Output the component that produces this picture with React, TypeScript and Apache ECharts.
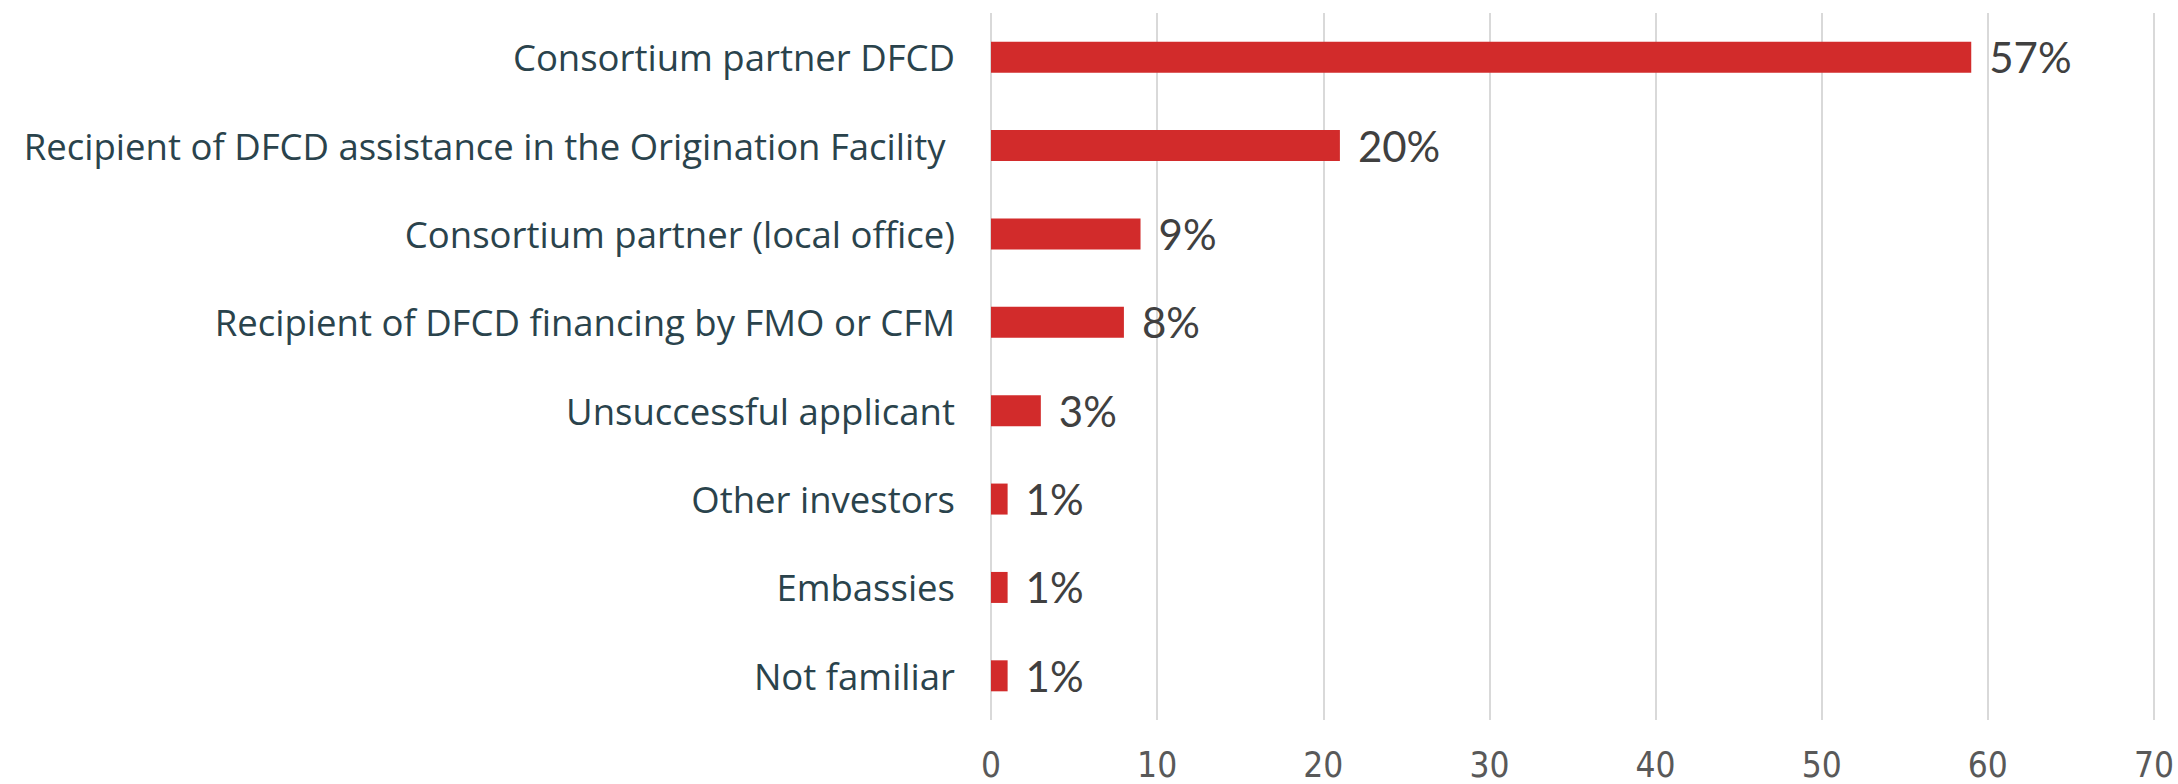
import React, { useEffect, useRef } from "react";
import * as echarts from "echarts";

const categories = [
  "Consortium partner DFCD",
  "Recipient of DFCD assistance in the Origination Facility ",
  "Consortium partner (local office)",
  "Recipient of DFCD financing by FMO or CFM",
  "Unsuccessful applicant",
  "Other investors",
  "Embassies",
  "Not familiar",
];
const barValues = [59, 21, 9, 8, 3, 1, 1, 1];
const valueLabels = ["57%", "20%", "9%", "8%", "3%", "1%", "1%", "1%"];
const xTicks = [0, 10, 20, 30, 40, 50, 60, 70];

export default function App() {
  const ref = useRef<HTMLDivElement>(null);
  useEffect(() => {
    if (!ref.current) return;
    const chart = echarts.init(ref.current, undefined, { renderer: "svg" });
    const font = "Lato, 'Open Sans', sans-serif";
    chart.setOption({
      animation: false,
      backgroundColor: "#ffffff",
      grid: { left: 991, right: 24, top: 13, bottom: 64, containLabel: false },
      xAxis: {
        type: "value",
        min: xTicks[0],
        max: xTicks[xTicks.length - 1],
        interval: 10,
        axisLine: { show: false },
        axisTick: { show: false },
        splitLine: { show: true, lineStyle: { color: "#D9D9D9", width: 2 } },
        axisLabel: {
          color: "#595959",
          fontSize: 35,
          fontFamily: "'Liberation Sans Narrow', 'DejaVu Sans Condensed', sans-serif",
          margin: 27,
        },
      },
      yAxis: {
        type: "category",
        inverse: true,
        data: categories,
        axisLine: { show: false },
        axisTick: { show: false },
        axisLabel: {
          color: "#2A434C",
          fontSize: 36.5,
          fontFamily: "'Open Sans', sans-serif",
          margin: 36,
        },
      },
      series: [
        {
          type: "bar",
          data: barValues,
          barWidth: 31,
          itemStyle: { color: "#D22B2B" },
          label: {
            show: true,
            position: "right",
            distance: 18,
            color: "#404040",
            fontSize: 42,
            fontFamily: font,
            formatter: (p: any) => valueLabels[p.dataIndex],
          },
        },
      ],
    });
    return () => chart.dispose();
  }, []);
  return (
    <div
      ref={ref}
      style={{ position: "fixed", left: 0, top: 0, width: 2178, height: 784 }}
    />
  );
}
